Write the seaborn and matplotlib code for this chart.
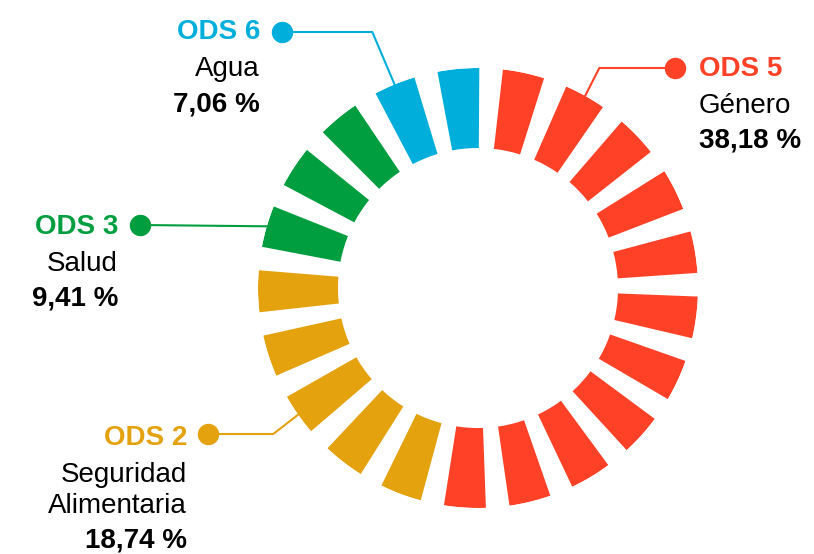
import numpy as np
import matplotlib.pyplot as plt
import seaborn as sns

# Data
goals = ['ODS 5', 'ODS 2', 'ODS 3', 'ODS 6']
names = ['Género', 'Seguridad\nAlimentaria', 'Salud', 'Agua']
shares = [38.18, 18.74, 9.41, 7.06]
segments = [11, 5, 3, 2]          # ring blocks per goal
colors = ['#FF4128', '#E4A20F', '#009E3E', '#00AEDB']

sns.set_style('white')
plt.rcParams['font.family'] = ['Liberation Sans', 'DejaVu Sans']

W, H = 814, 554
fig = plt.figure(figsize=(W / 100, H / 100), dpi=100)

# Segmented ring on a polar axes (center 478,288 px; radii 140-220 px)
cx, cy, r_out, r_in = 478, 288, 220, 140
ax = fig.add_axes([(cx - r_out) / W, (H - cy - r_out) / H, 2 * r_out / W, 2 * r_out / H],
                  projection='polar')
n = sum(segments)
step = 360 / n
theta = np.deg2rad(12 + step * np.arange(n))
seg_colors = np.repeat(colors, segments)
ax.bar(theta, r_out - r_in, width=np.deg2rad(step * 0.64), bottom=r_in,
       color=seg_colors, linewidth=0)
ax.set_theta_zero_location('N')
ax.set_theta_direction(-1)
ax.set_ylim(0, r_out)
ax.axis('off')

# Overlay in pixel coordinates for labels and leader lines
ov = fig.add_axes([0, 0, 1, 1])
ov.set_xlim(0, W)
ov.set_ylim(H, 0)
ov.set_autoscale_on(False)
ov.axis('off')

# dot, text x, align, first baseline, block in group, leader angle
layout = [
    ((675, 68), 699, 'left', 76, 1, 63),
    ((208, 434), 187, 'right', 445, 2, 38),
    ((140, 225), 118, 'right', 234, 0, None),
    ((282, 32), 260, 'right', 39, 0, 113),
]

first = np.cumsum([0] + segments[:-1])
fs = 20
for i, (dot, tx, ha, y0, k_off, angB) in enumerate(layout):
    k = first[i] + k_off
    conn = 'arc3' if angB is None else f'angle,angleA=0,angleB={angB},rad=0'
    ov.annotate('', xy=(theta[k], r_out), xycoords=ax.transData,
                xytext=dot, textcoords='data', annotation_clip=False,
                arrowprops=dict(arrowstyle='-', connectionstyle=conn, color=colors[i],
                                lw=1.5, shrinkA=0, shrinkB=0))
    ov.plot(*dot, 'o', ms=14.4, color=colors[i])
    ov.text(tx, y0, goals[i], color=colors[i], fontweight='bold', ha=ha,
            va='baseline', fontsize=fs)
    y = y0 + 37
    for line in names[i].split('\n'):
        ov.text(tx, y, line, color='black', ha=ha, va='baseline', fontsize=fs)
        y += 31
    ov.text(tx, y + 4, f'{shares[i]:.2f} %'.replace('.', ','), color='black',
            fontweight='bold', ha=ha, va='baseline', fontsize=fs)

plt.savefig('out.png', dpi=100)
